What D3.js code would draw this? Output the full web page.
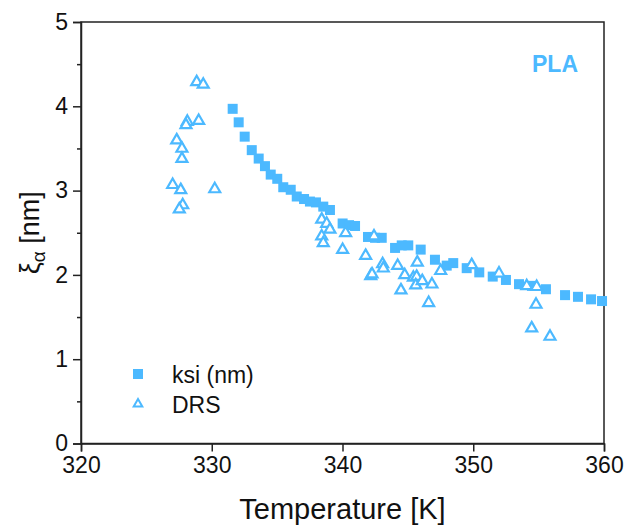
<!DOCTYPE html>
<html>
<head>
<meta charset="utf-8">
<script src="https://cdn.jsdelivr.net/npm/d3@7/dist/d3.min.js"></script>
<style>
  html, body { margin: 0; padding: 0; background: #fff; }
  svg { display: block; font-family: Arial, "Liberation Sans", sans-serif; }
</style>
</head>
<body>
<svg id="chart" width="624" height="526"></svg>
<script>
// Correlation length of PLA vs temperature
const ksiT = [331.60, 332.06, 332.52, 333.06, 333.59, 334.07, 334.51, 335.01, 335.47, 336.04,
  336.50, 337.06, 337.51, 337.97, 338.53, 339.04, 340.01, 340.50, 340.96, 341.95,
  342.49, 343.00, 344.02, 344.53, 345.03, 345.98, 347.07, 347.97, 348.47, 349.50,
  350.46, 351.49, 352.50, 353.50, 354.49, 355.56, 357.02, 358.01, 359.01, 359.85];
const ksiVal = [3.97, 3.81, 3.64, 3.48, 3.38, 3.29, 3.19, 3.14, 3.04, 3.01,
  2.93, 2.90, 2.87, 2.86, 2.81, 2.77, 2.61, 2.59, 2.58, 2.45,
  2.44, 2.44, 2.32, 2.35, 2.35, 2.30, 2.18, 2.11, 2.14, 2.08,
  2.03, 1.98, 1.94, 1.89, 1.87, 1.83, 1.76, 1.74, 1.71, 1.69];

const drsT = [328.85, 329.35, 328.13, 328.03, 329.00, 327.32, 327.72, 327.72, 327.01, 327.63,
  330.23, 327.78, 327.52, 338.41, 338.79, 339.04, 338.41, 338.53, 340.24, 340.01,
  342.41, 341.77, 343.07, 343.12, 342.16, 342.26, 344.22, 345.72, 344.76, 345.42,
  345.67, 345.60, 346.10, 346.84, 344.47, 346.59, 347.51, 349.88, 351.97, 354.09,
  354.85, 354.80, 354.47, 355.87];
const drsVal = [4.30, 4.27, 3.83, 3.79, 3.84, 3.61, 3.51, 3.39, 3.08, 3.02,
  3.03, 2.84, 2.79, 2.67, 2.62, 2.55, 2.47, 2.39, 2.51, 2.31,
  2.47, 2.24, 2.14, 2.09, 2.00, 2.02, 2.12, 2.16, 2.01, 1.98,
  1.99, 1.89, 1.94, 1.90, 1.83, 1.68, 2.06, 2.13, 2.03, 1.88,
  1.87, 1.66, 1.38, 1.28];

const xTicks = [320, 330, 340, 350, 360];
const yTicks = [0, 1, 2, 3, 4, 5];
const yMinorTicks = [0.5, 1.5, 2.5, 3.5, 4.5];
const seriesNames = ["ksi (nm)", "DRS"];

const color = "#4cb9ff";
const axisColor = "#222";

const svg = d3.select("#chart");
const plotLeft = 81, plotRight = 604, plotTop = 22, plotBottom = 443.5;

const x = d3.scaleLinear().domain([320, 360]).range([plotLeft, plotRight]);
const y = d3.scaleLinear().domain([0, 5]).range([plotBottom, plotTop]);

// frame (top and right edges)
svg.append("rect")
  .attr("x", plotLeft).attr("y", plotTop)
  .attr("width", plotRight - plotLeft).attr("height", plotBottom - plotTop)
  .attr("fill", "none").attr("stroke", axisColor).attr("stroke-width", 1.5);

// x axis
const xAxis = svg.append("g")
  .attr("transform", `translate(0,${plotBottom})`)
  .call(d3.axisBottom(x).tickValues(xTicks).tickSize(8).tickPadding(5).tickFormat(d3.format("d")));
xAxis.select(".domain").attr("stroke", axisColor).attr("stroke-width", 1.5);
xAxis.selectAll(".tick line").attr("stroke", axisColor).attr("stroke-width", 1.5);
xAxis.selectAll(".tick text").attr("font-size", 23).attr("fill", "#111")
  .attr("font-family", "Arial, 'Liberation Sans', sans-serif");

// y axis
const yAxis = svg.append("g")
  .attr("transform", `translate(${plotLeft},0)`)
  .call(d3.axisLeft(y).tickValues(yTicks).tickSize(8).tickPadding(5).tickFormat(d3.format("d")));
yAxis.select(".domain").attr("stroke", axisColor).attr("stroke-width", 1.5);
yAxis.selectAll(".tick line").attr("stroke", axisColor).attr("stroke-width", 1.5);
yAxis.selectAll(".tick text").attr("font-size", 23).attr("fill", "#111")
  .attr("font-family", "Arial, 'Liberation Sans', sans-serif");

// y minor ticks
const yMinor = svg.append("g")
  .attr("transform", `translate(${plotLeft},0)`)
  .call(d3.axisLeft(y).tickValues(yMinorTicks).tickSize(4).tickFormat(""));
yMinor.select(".domain").remove();
yMinor.selectAll(".tick line").attr("stroke", axisColor).attr("stroke-width", 1.5);

// axis titles
svg.append("text")
  .attr("x", (plotLeft + plotRight) / 2).attr("y", 519)
  .attr("text-anchor", "middle").attr("font-size", 29).attr("fill", "#111")
  .text("Temperature [K]");

const yTitle = svg.append("text")
  .attr("transform", `translate(39,${(plotTop + plotBottom) / 2}) rotate(-90)`)
  .attr("text-anchor", "middle").attr("font-size", 27).attr("fill", "#111");
yTitle.append("tspan").text("ξ");
yTitle.append("tspan").attr("font-size", 19).attr("dy", 6).text("α");
yTitle.append("tspan").attr("dy", -6).text(" [nm]");

// markers
const sq = 10;
svg.append("g").selectAll("rect")
  .data(ksiT.map((t, i) => [t, ksiVal[i]]))
  .join("rect")
  .attr("x", d => x(d[0]) - sq / 2).attr("y", d => y(d[1]) - sq / 2)
  .attr("width", sq).attr("height", sq)
  .attr("fill", color);

const tri = d3.symbol().type(d3.symbolTriangle).size(52);
svg.append("g").selectAll("path")
  .data(drsT.map((t, i) => [t, drsVal[i]]))
  .join("path")
  .attr("d", tri)
  .attr("transform", d => `translate(${x(d[0])},${y(d[1]) + 1})`)
  .attr("fill", "#fff").attr("stroke", color).attr("stroke-width", 2.2);

// legend
const leg = svg.append("g");
leg.append("rect").attr("x", 138 - sq / 2).attr("y", 374 - sq / 2)
  .attr("width", sq).attr("height", sq).attr("fill", color);
leg.append("path").attr("d", d3.symbol().type(d3.symbolTriangle).size(32))
  .attr("transform", "translate(138,404)")
  .attr("fill", "#fff").attr("stroke", color).attr("stroke-width", 2);
leg.append("text").attr("x", 172).attr("y", 383).attr("font-size", 23).attr("fill", "#111").text(seriesNames[0]);
leg.append("text").attr("x", 172).attr("y", 413).attr("font-size", 23).attr("fill", "#111").text(seriesNames[1]);

// sample label
svg.append("text")
  .attr("x", 578).attr("y", 72).attr("text-anchor", "end")
  .attr("font-size", 23).attr("font-weight", "bold").attr("fill", color)
  .text("PLA");
</script>
</body>
</html>
